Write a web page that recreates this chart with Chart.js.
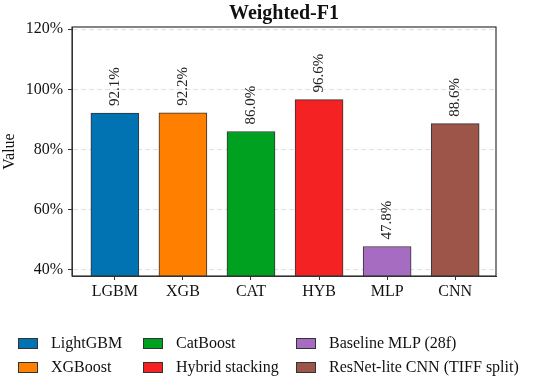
<!DOCTYPE html>
<html lang="en">
<head>
    <meta charset="UTF-8">
    <title>Weighted-F1</title>
    <script src="https://cdn.jsdelivr.net/npm/chart.js"></script>
    <style>
        body {
            margin: 0;
            background: #fff;
            font-family: 'Liberation Serif', 'Times New Roman', serif;
        }
        #wrap {
            position: relative;
            width: 550px;
            height: 380px;
        }
        .lg-item {
            position: absolute;
            display: flex;
            align-items: center;
            font-size: 16px;
            color: #111;
            white-space: nowrap;
        }
        .lg-box {
            width: 18px;
            height: 9px;
            border: 1px solid #333;
            margin-right: 13px;
        }
    </style>
</head>
<body>
    <div id="wrap">
        <canvas id="myChart" width="550" height="380"></canvas>
        <div id="legend"></div>
    </div>

    <script>
        // data
        const categories = ['LGBM', 'XGB', 'CAT', 'HYB', 'MLP', 'CNN'];
        const seriesNames = ['LightGBM', 'XGBoost', 'CatBoost', 'Hybrid stacking', 'Baseline MLP (28f)', 'ResNet-lite CNN (TIFF split)'];
        const f1Values = [92.1, 92.2, 86.0, 96.6, 47.8, 88.6];
        const barColors = ['#0173b2', '#ff7f00', '#00a020', '#f42222', '#a56cc1', '#9c5548'];
        const yTicks = [40, 60, 80, 100, 120];

        const serif = "'Liberation Serif', 'Times New Roman', serif";

        // full box around the plot area
        const frame = {
            id: 'frame',
            afterDatasetsDraw(chart) {
                const a = chart.chartArea;
                const c = chart.ctx;
                c.save();
                c.strokeStyle = '#333';
                c.lineWidth = 1.2;
                c.strokeRect(a.left, a.top, a.right - a.left, a.bottom - a.top);
                c.restore();
            }
        };

        // rotated value labels above each bar
        const valueLabels = {
            id: 'valueLabels',
            afterDatasetsDraw(chart) {
                const c = chart.ctx;
                const meta = chart.getDatasetMeta(0);
                c.save();
                c.font = '15px ' + serif;
                c.fillStyle = '#222';
                c.textAlign = 'left';
                c.textBaseline = 'middle';
                meta.data.forEach((bar, i) => {
                    c.save();
                    c.translate(bar.x, bar.y - 7);
                    c.rotate(-Math.PI / 2);
                    c.fillText(f1Values[i].toFixed(1) + '%', 0, 0);
                    c.restore();
                });
                c.restore();
            }
        };

        let ctx = document.getElementById('myChart').getContext('2d');
        let chart = new Chart(ctx, {
            type: 'bar',
            data: {
                datasets: [{
                    data: f1Values.map((v, i) => ({ x: i, y: v })),
                    backgroundColor: barColors,
                    borderColor: '#333',
                    borderWidth: 1,
                    borderSkipped: false,
                    barThickness: 48
                }]
            },
            options: {
                responsive: false,
                animation: false,
                devicePixelRatio: 1,
                layout: {
                    padding: { left: 0, right: 54, top: 0, bottom: 74 }
                },
                plugins: {
                    legend: { display: false },
                    tooltip: { enabled: false },
                    title: {
                        display: true,
                        text: 'Weighted-F1',
                        fullSize: false,
                        color: '#111',
                        font: { family: serif, size: 20, weight: 'bold' },
                        padding: { top: 2, bottom: 1 }
                    }
                },
                scales: {
                    x: {
                        type: 'linear',
                        offset: false,
                        min: -0.63,
                        max: 5.6,
                        afterBuildTicks: (scale) => {
                            scale.ticks = categories.map((c, i) => ({ value: i }));
                        },
                        afterFit: (scale) => { scale.height = 30; },
                        ticks: {
                            color: '#111',
                            font: { family: serif, size: 16 },
                            padding: 2,
                            maxRotation: 0,
                            autoSkip: false,
                            callback: (v) => categories[v]
                        },
                        grid: {
                            offset: false,
                            drawOnChartArea: false,
                            drawTicks: true,
                            tickLength: 4,
                            tickColor: '#333'
                        },
                        border: { color: '#333', width: 1 }
                    },
                    y: {
                        min: 38,
                        max: 120.7,
                        afterBuildTicks: (scale) => {
                            scale.ticks = yTicks.map(v => ({ value: v }));
                        },
                        afterFit: (scale) => { scale.width = 72; },
                        ticks: {
                            color: '#111',
                            font: { family: serif, size: 16 },
                            padding: 5,
                            callback: (v) => v + '%'
                        },
                        grid: {
                            color: '#e0e0e0',
                            lineWidth: 1,
                            drawTicks: true,
                            tickLength: 4,
                            tickColor: '#333'
                        },
                        border: { color: '#333', width: 1, dash: [5, 3] },
                        title: {
                            display: true,
                            text: 'Value',
                            color: '#111',
                            font: { family: serif, size: 16 },
                            padding: { top: 0, bottom: 0 }
                        }
                    }
                }
            },
            plugins: [frame, valueLabels]
        });

        // legend below the chart, filled column by column
        const legendX = [18, 143, 296];
        const legendY = [343, 367];
        const legend = document.getElementById('legend');
        seriesNames.forEach((name, i) => {
            const item = document.createElement('div');
            item.className = 'lg-item';
            item.style.left = legendX[Math.floor(i / 2)] + 'px';
            item.style.top = (legendY[i % 2] - 10) + 'px';
            item.style.height = '20px';
            const box = document.createElement('span');
            box.className = 'lg-box';
            box.style.background = barColors[i];
            const label = document.createElement('span');
            label.textContent = name;
            item.appendChild(box);
            item.appendChild(label);
            legend.appendChild(item);
        });
    </script>
</body>
</html>
